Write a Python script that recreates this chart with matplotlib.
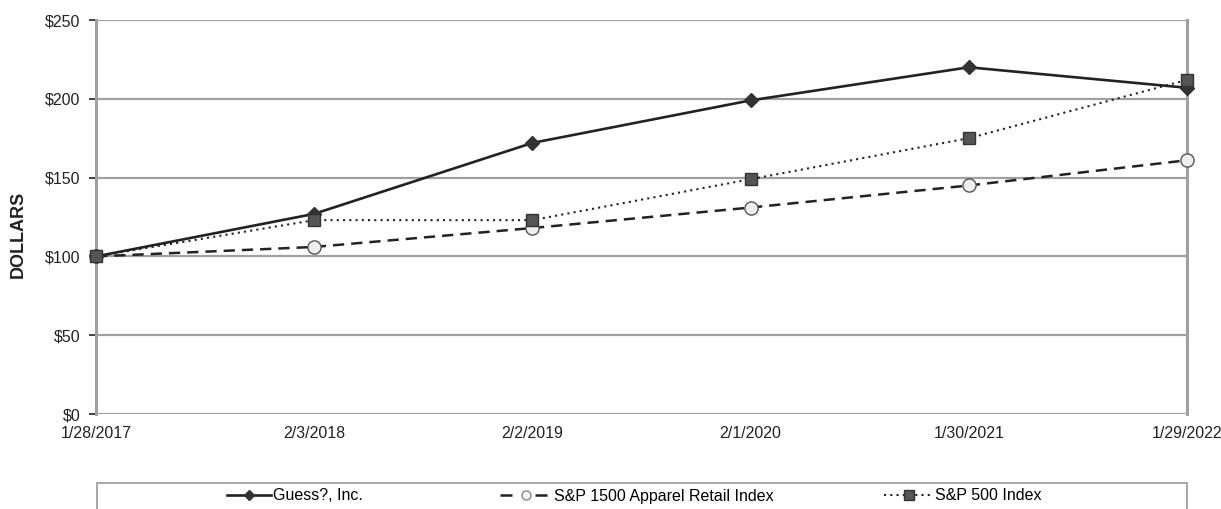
import matplotlib
matplotlib.use("Agg")
import matplotlib.pyplot as plt
from matplotlib.lines import Line2D
from matplotlib.patches import Rectangle

plt.rcParams['font.family'] = ['Liberation Sans', 'DejaVu Sans']

dates = ["1/28/2017", "2/3/2018", "2/2/2019", "2/1/2020", "1/30/2021", "1/29/2022"]
guess = [100, 127, 172, 199, 220, 207]
apparel = [100, 106, 118, 131, 145, 161]
sp500 = [100, 123, 123, 149, 175, 212]
yticks = [0, 50, 100, 150, 200, 250]
names = ["Guess?, Inc.", "S&P 1500 Apparel Retail Index", "S&P 500 Index"]

W, H = 1221, 509
FS = 11.5
fig = plt.figure(figsize=(W / 100, H / 100), dpi=100)
ax = fig.add_axes([96 / W, 1 - 414 / H, (1187 - 96) / W, (414 - 20) / H])

x = list(range(len(dates)))
grid_c = "#a0a0a0"
for yv in yticks:
    ax.axhline(yv, color=grid_c, lw=1.6, zorder=1)

s1 = dict(color="#222222", lw=1.9, ls="-", marker="D", markersize=7,
          markerfacecolor="#333333", markeredgecolor="#333333")
s2 = dict(color="#222222", lw=1.8, ls=(0, (4.5, 2.8)), marker="o", markersize=9.5,
          markerfacecolor="#eeeeee", markeredgecolor="#555555", markeredgewidth=1.0)
s3 = dict(color="#222222", lw=1.5, ls=(0, (1, 2)), marker="s", markersize=8,
          markerfacecolor="#555555", markeredgecolor="#333333", markeredgewidth=1.0)

ax.plot(x, guess, zorder=3, clip_on=False, **s1)
ax.plot(x, apparel, zorder=4, clip_on=False, **s2)
ax.plot(x, sp500, zorder=5, clip_on=False, **s3)

ax.set_xlim(0, len(dates) - 1)
ax.set_ylim(0, 250)
ax.set_yticks(yticks)
ax.set_yticklabels(["$%d" % v for v in yticks], fontsize=FS, color="#222222")
ax.set_xticks(x)
ax.set_xticklabels(dates, fontsize=FS, color="#222222")
ax.tick_params(axis="x", length=0, pad=9)
ax.tick_params(axis="y", length=5, width=1.2, color="#222222", pad=6, direction="out")

for side in ["top", "bottom"]:
    ax.spines[side].set_visible(False)
for side in ["left", "right"]:
    ax.spines[side].set_color(grid_c)
    ax.spines[side].set_linewidth(2.2)

ax.set_ylabel("DOLLARS", fontsize=13, fontweight="bold", color="#222222")
ax.yaxis.set_label_coords(-0.0632, 0.455)

# legend box
rect = Rectangle((97 / W, -0.1), (1187 - 97) / W, 0.1 + 1 - 483 / H,
                 transform=fig.transFigure, facecolor="white",
                 edgecolor=grid_c, lw=1.3, clip_on=False)
fig.patches.append(rect)

h1 = Line2D([], [], **s1)
h1.set_markersize(5)
h2 = Line2D([], [], **dict(s2, ls=(0, (4.8, 9.2)), markersize=6.5,
                           markerfacecolor="#f4f4f4", markeredgecolor="#888888"))
h3 = Line2D([], [], **dict(s3, markersize=7.5))
handles = [h1, h2, h3]
starts = [227, 500, 884]
widths = [44, 52, 49]
px_per_fs = FS * 100 / 72
for h, n, xp, w in zip(handles, names, starts, widths):
    fig.legend([h], [n], loc="center left", bbox_to_anchor=(xp / W, 1 - 496 / H),
               frameon=False, fontsize=FS, handlelength=w / px_per_fs,
               handletextpad=0.1, borderaxespad=0, borderpad=0)

fig.savefig("out.png", dpi=100)
